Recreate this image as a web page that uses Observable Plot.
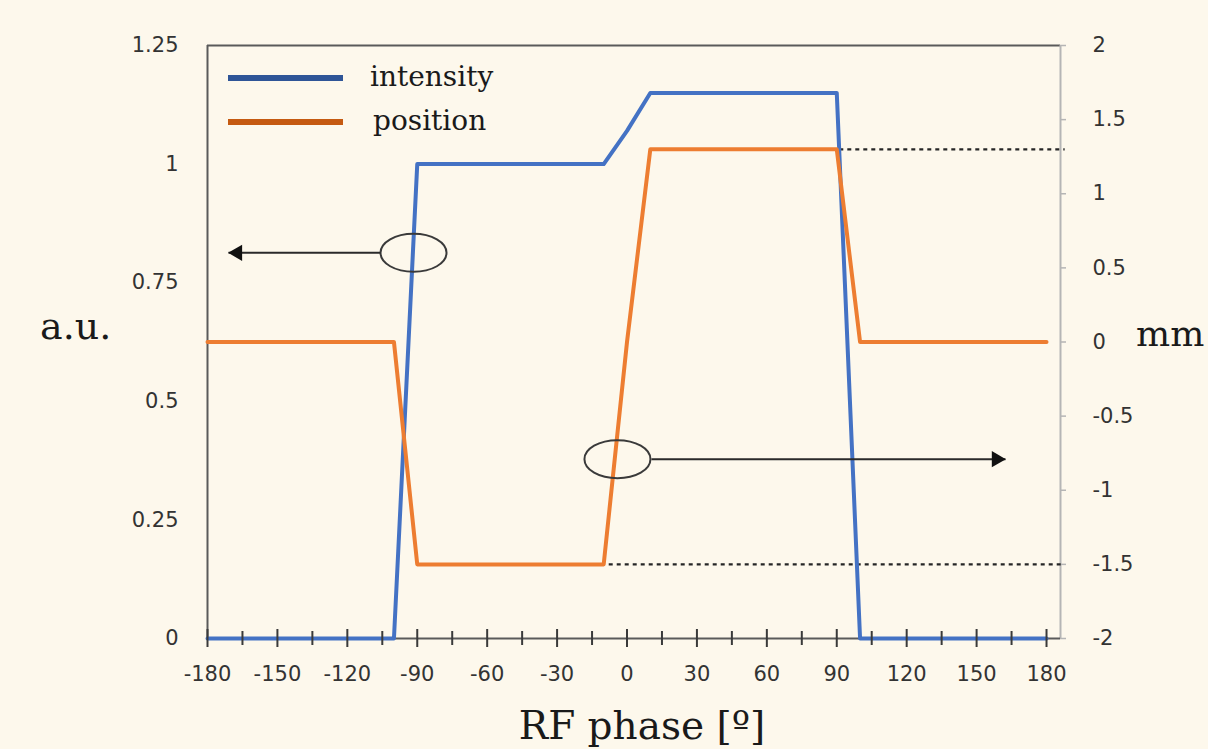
<!DOCTYPE html>
<html><head><meta charset="utf-8">
<script src="https://cdn.jsdelivr.net/npm/d3@7"></script>
<script src="https://cdn.jsdelivr.net/npm/@observablehq/plot@0.6"></script>
<style>
html,body{margin:0;padding:0;background:#fdf8ec;overflow:hidden}
#chart{position:relative;width:1208px;height:749px}
</style></head><body><div id="chart"></div>
<script>
// ---- data ----
const phase = [-180, -100, -90, -10, 0, 10, 90, 100, 180];
const intensity = [0, 0, 1, 1, 1.07, 1.15, 1.15, 0, 0];       // a.u. (left axis)
const position = [0, 0, -1.5, -1.5, 0, 1.3, 1.3, 0, 0];        // mm (right axis)
const xTicks = [-180, -150, -120, -90, -60, -30, 0, 30, 60, 90, 120, 150, 180];
const xMinorTicks = [-165, -135, -105, -75, -45, -15, 15, 45, 75, 105, 135, 165];
const leftTicks = [0, 0.25, 0.5, 0.75, 1, 1.25];
const rightTicks = [-2, -1.5, -1, -0.5, 0, 0.5, 1, 1.5, 2];
const guideMm = [1.3, -1.5];
const guideFrom = [81, -14.5];
const guideTo = [188, 188];
// annotation ellipses / arrows (data units: degrees, a.u.)
const ellipseX = [-91.6, -4.1];
const ellipseY = [0.813, 0.378];
const arrowFrom = [-105.8, 10.5];
const arrowTo = [-171, 162.4];
const arrowY = [0.813, 0.378];

const X_MAX = 186;
const toLeft = mm => (mm + 2) * 1.25 / 4;
const fromLeft = v => Math.round((v * 4 / 1.25 - 2) * 10) / 10;

const intensityData = phase.map((p, i) => ({phase: p, value: intensity[i]}));
const positionData = phase.map((p, i) => ({phase: p, value: toLeft(position[i])}));
const guides = guideMm.map((m, i) => ({y: toLeft(m), x1: guideFrom[i], x2: guideTo[i]}));
const ellipses = ellipseX.map((x, i) => ({x, y: ellipseY[i]}));
const arrows = arrowFrom.map((x, i) => ({x1: x, x2: arrowTo[i], y: arrowY[i]}));

const ellipseSymbol = {draw(ctx) {
  const rx = 33, ry = 19, k = 0.5523;
  ctx.moveTo(rx, 0);
  ctx.bezierCurveTo(rx, ry * k, rx * k, ry, 0, ry);
  ctx.bezierCurveTo(-rx * k, ry, -rx, ry * k, -rx, 0);
  ctx.bezierCurveTo(-rx, -ry * k, -rx * k, -ry, 0, -ry);
  ctx.bezierCurveTo(rx * k, -ry, rx, -ry * k, rx, 0);
  ctx.closePath();
}};

const axisColor = "#5a5a5a";
const textColor = "#333333";

const plot = Plot.plot({
  width: 1208, height: 749,
  marginLeft: 207, marginRight: 148, marginTop: 45, marginBottom: 111,
  style: {background: "#fdf8ec", fontFamily: "DejaVu Sans", fontSize: "21px", overflow: "visible"},
  x: {domain: [-180, X_MAX]},
  y: {domain: [0, 1.25]},
  marks: [
    Plot.ruleY([1.25], {stroke: axisColor, strokeWidth: 2}),
    Plot.ruleX([-180], {stroke: axisColor, strokeWidth: 2}),
    Plot.ruleX([X_MAX], {stroke: "#b5b5b5", strokeWidth: 2}),
    Plot.ruleY(rightTicks, {y: toLeft, x1: X_MAX, x2: X_MAX, insetRight: -6, stroke: "#b5b5b5", strokeWidth: 1.5}),
    Plot.ruleY([0], {stroke: axisColor, strokeWidth: 2}),
    Plot.ruleY(guides, {y: "y", x1: "x1", x2: "x2", stroke: "#262626", strokeWidth: 2.2, strokeDasharray: "4,4"}),
    Plot.line(intensityData, {x: "phase", y: "value", stroke: "#4472c4", strokeWidth: 4}),
    Plot.line(positionData, {x: "phase", y: "value", stroke: "#ed7d31", strokeWidth: 4}),
    Plot.ruleX(xTicks, {y1: 0, y2: 0, insetTop: -9, insetBottom: -9, stroke: "#3a3a3a", strokeWidth: 2}),
    Plot.ruleX(xMinorTicks, {y1: 0, y2: 0, insetTop: -7, insetBottom: -7, stroke: "#3a3a3a", strokeWidth: 2}),
    Plot.axisX({ticks: xTicks, tickSize: 0, tickPadding: 28, tickFormat: d => String(d), label: null, fill: textColor, fontSize: 21}),
    Plot.axisY({anchor: "left", ticks: leftTicks, tickSize: 0, tickPadding: 29, tickFormat: d => String(d), label: null, fill: textColor, fontSize: 21}),
    Plot.axisY({anchor: "right", ticks: rightTicks.map(toLeft), tickSize: 0, tickPadding: 32, tickFormat: d => String(fromLeft(d)), label: null, fill: textColor, fontSize: 21}),
    Plot.dot(ellipses, {x: "x", y: "y", symbol: ellipseSymbol, stroke: "#3a3a3a", strokeWidth: 2, fill: "none"}),
    Plot.link(arrows, {x1: "x1", y1: "y", x2: "x2", y2: "y", stroke: "#2a2a2a", strokeWidth: 2}),
    Plot.dot([arrows[0]], {x: "x2", y: "y", symbol: "triangle", r: 6, rotate: -90, dx: 9, fill: "#111", stroke: "none"}),
    Plot.dot([arrows[1]], {x: "x2", y: "y", symbol: "triangle", r: 6, rotate: 90, dx: -9, fill: "#111", stroke: "none"})
  ]
});

document.getElementById("chart").appendChild(plot);

// axis titles and in-plot legend
const svg = d3.select(plot);
const serif = "DejaVu Serif";
svg.append("text").attr("x", 40).attr("y", 339).attr("text-anchor", "start").attr("font-family", serif).attr("font-size", 38).attr("fill", "#1a1a1a").text("a.u.");
svg.append("text").attr("x", 1136).attr("y", 346).attr("text-anchor", "start").attr("font-family", serif).attr("font-size", 36).attr("fill", "#1a1a1a").text("mm");
svg.append("text").attr("x", 642).attr("y", 739).attr("text-anchor", "middle").attr("font-family", serif).attr("font-size", 39).attr("fill", "#1a1a1a").text("RF phase [º]");

const legendNames = ["intensity", "position"];
const legendColors = ["#2f5597", "#c55a11"];
legendNames.forEach((name, i) => {
  const y = 78 + i * 44;
  svg.append("line").attr("x1", 228).attr("x2", 343).attr("y1", y).attr("y2", y)
    .attr("stroke", legendColors[i]).attr("stroke-width", 6);
  svg.append("text").attr("x", i === 0 ? 370 : 373).attr("y", y + 8).attr("text-anchor", "start").attr("font-family", serif)
    .attr("font-size", 28).attr("fill", "#1a1a1a").text(name);
});
</script>
</body></html>
